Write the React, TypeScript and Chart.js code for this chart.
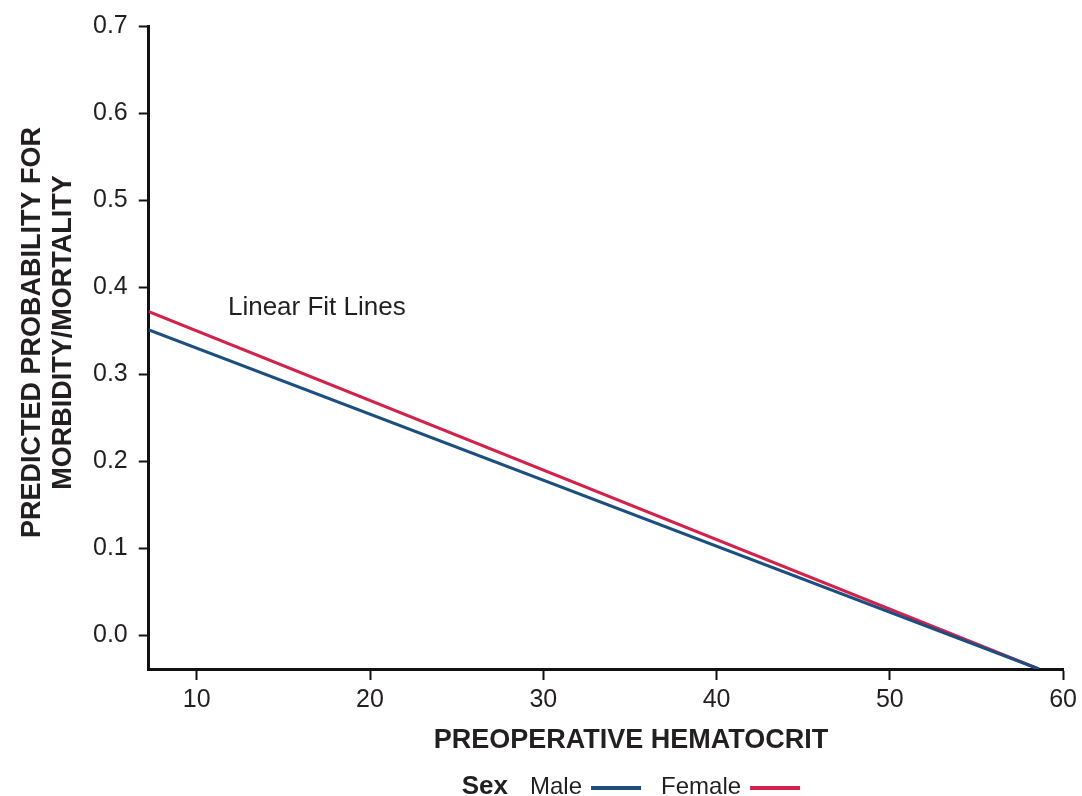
import React, { useEffect, useRef } from "react";
import { Chart, registerables } from "chart.js";

Chart.register(...registerables);

// Fitted line endpoints (hematocrit, predicted probability)
const hematocrit = [7.2, 58.6];
const maleFit = [0.351, -0.039];
const femaleFit = [0.372, -0.039];
const xTickValues = [10, 20, 30, 40, 50, 60];
const yTickValues = [0.0, 0.1, 0.2, 0.3, 0.4, 0.5, 0.6, 0.7];
const xTitle = "PREOPERATIVE HEMATOCRIT";
const yTitleLines = ["PREDICTED PROBABILITY FOR", "MORBIDITY/MORTALITY"];
const legendTitle = "Sex";
const seriesNames = ["Male", "Female"];
const seriesColors = ["#1b4f80", "#d4214c"];
const fitLabel = "Linear Fit Lines";

const INK = "#231f20";
const FONT = "'Liberation Sans', Arial, sans-serif";

// Titles, annotation and legend are drawn here so they can sit slightly off the plot centre
const overlayPlugin = {
  id: "overlay",
  afterDraw(chart: any) {
    const { ctx, scales, chartArea } = chart;
    const midX = (chartArea.left + chartArea.right) / 2 + 25;
    const midY = (chartArea.top + chartArea.bottom) / 2 - 15;
    ctx.save();
    ctx.fillStyle = INK;
    ctx.textBaseline = "middle";

    // y-axis title, two rotated lines
    ctx.font = `bold 27px ${FONT}`;
    ctx.textAlign = "center";
    yTitleLines.forEach((line, i) => {
      ctx.save();
      ctx.translate(33 + i * 31, midY);
      ctx.rotate(-Math.PI / 2);
      ctx.fillText(line, 0, 0);
      ctx.restore();
    });

    // x-axis title
    ctx.fillText(xTitle, midX, chartArea.bottom + 72);

    // annotation text
    ctx.font = `26px ${FONT}`;
    ctx.textAlign = "left";
    ctx.fillText(fitLabel, scales.x.getPixelForValue(11.8), scales.y.getPixelForValue(0.376));

    // legend row
    const y = chart.height - 9;
    const swatch = 50;
    const items: { text: string; font: string; color?: string; gapAfter: number }[] = [
      { text: legendTitle, font: `bold 26px ${FONT}`, gapAfter: 22 },
      { text: seriesNames[0], font: `24px ${FONT}`, color: seriesColors[0], gapAfter: 20 },
      { text: seriesNames[1], font: `24px ${FONT}`, color: seriesColors[1], gapAfter: 0 },
    ];
    const widths = items.map((it) => {
      ctx.font = it.font;
      const w = ctx.measureText(it.text).width;
      return it.color ? w + 9 + swatch : w;
    });
    const total = widths.reduce((a, b, i) => a + b + items[i].gapAfter, 0);
    let x = midX - total / 2;
    items.forEach((it, i) => {
      ctx.font = it.font;
      ctx.fillStyle = INK;
      ctx.fillText(it.text, x, y);
      if (it.color) {
        const tw = ctx.measureText(it.text).width;
        ctx.strokeStyle = it.color;
        ctx.lineWidth = 4;
        ctx.beginPath();
        ctx.moveTo(x + tw + 9, y + 1);
        ctx.lineTo(x + tw + 9 + swatch, y + 1);
        ctx.stroke();
      }
      x += widths[i] + it.gapAfter;
    });
    ctx.restore();
  },
};

export default function App() {
  const ref = useRef<HTMLCanvasElement>(null);

  useEffect(() => {
    document.body.style.margin = "0";
    const canvas = ref.current;
    if (!canvas) return;
    const chart = new Chart(canvas, {
      type: "line",
      data: {
        datasets: [
          {
            label: seriesNames[0],
            data: hematocrit.map((h, i) => ({ x: h, y: maleFit[i] })),
            borderColor: seriesColors[0],
            borderWidth: 3,
            pointRadius: 0,
          },
          {
            label: seriesNames[1],
            data: hematocrit.map((h, i) => ({ x: h, y: femaleFit[i] })),
            borderColor: seriesColors[1],
            borderWidth: 3,
            pointRadius: 0,
          },
        ],
      },
      options: {
        animation: false,
        responsive: true,
        maintainAspectRatio: false,
        layout: { padding: { left: 82, right: 14, top: 20, bottom: 76 } },
        plugins: { legend: { display: false }, tooltip: { enabled: false } },
        scales: {
          x: {
            type: "linear",
            min: 7.23,
            max: 60,
            afterBuildTicks: (axis: any) => {
              axis.ticks = xTickValues.map((v) => ({ value: v }));
            },
            ticks: {
              color: INK,
              font: { family: FONT, size: 25 },
              padding: 5,
              maxRotation: 0,
            },
            grid: {
              display: true,
              drawOnChartArea: false,
              drawTicks: true,
              tickLength: 11,
              tickColor: "#111",
              tickWidth: 2,
            },
            border: { display: true, color: "#111", width: 3 },
          },
          y: {
            type: "linear",
            min: -0.039,
            max: 0.7,
            afterBuildTicks: (axis: any) => {
              axis.ticks = yTickValues.map((v) => ({ value: v }));
            },
            ticks: {
              color: INK,
              font: { family: FONT, size: 25 },
              padding: 11,
              callback: (v: any) => Number(v).toFixed(1),
            },
            grid: {
              display: true,
              drawOnChartArea: false,
              drawTicks: true,
              tickLength: 10,
              tickColor: "#111",
              tickWidth: 2,
            },
            border: { display: true, color: "#111", width: 3 },
          },
        },
      },
      plugins: [overlayPlugin],
    });
    return () => chart.destroy();
  }, []);

  return (
    <div style={{ width: 1082, height: 796, position: "relative", background: "#fff" }}>
      <canvas ref={ref} />
    </div>
  );
}
